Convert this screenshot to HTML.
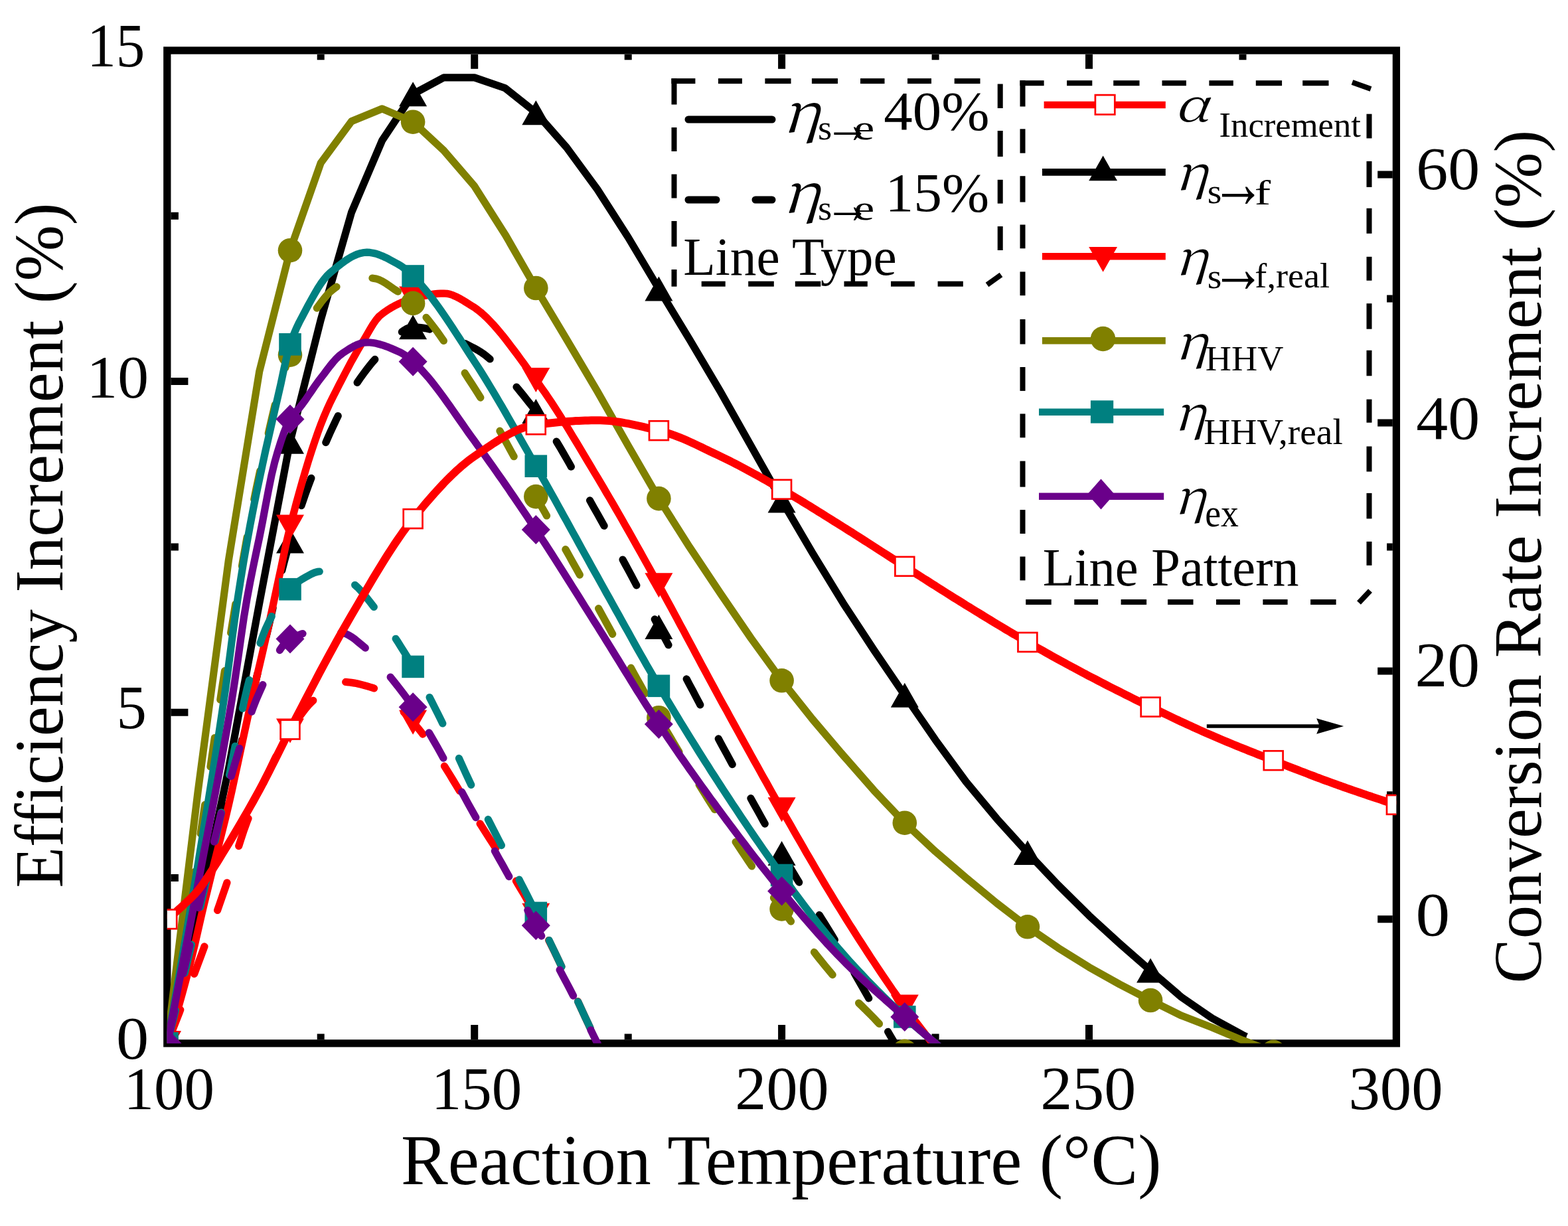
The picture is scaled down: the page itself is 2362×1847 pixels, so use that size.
<!DOCTYPE html><html><head><meta charset="utf-8"><style>html,body{margin:0;padding:0;background:#fff;overflow:hidden}svg{display:block}</style></head><body>
<svg width="2362" height="1847" viewBox="0 0 2362 1847">
<rect width="2362" height="1847" fill="#fff"/>
<defs><clipPath id="pc"><rect x="251.8" y="76.0" width="1851.6" height="1495.8"/></clipPath></defs>
<rect x="251.8" y="76.0" width="1851.6" height="1495.8" fill="none" stroke="#000" stroke-width="11.3"/>
<path d="M483.2,1566.1V1557.6 M483.2,81.7V90.2 M714.7,1566.1V1544.1 M714.7,81.7V103.7 M946.2,1566.1V1557.6 M946.2,81.7V90.2 M1177.6,1566.1V1544.1 M1177.6,81.7V103.7 M1409.1,1566.1V1557.6 M1409.1,81.7V90.2 M1640.5,1566.1V1544.1 M1640.5,81.7V103.7 M1872.0,1566.1V1557.6 M1872.0,81.7V90.2 M257.4,1322.5H268.9 M257.4,1073.2H283.4 M257.4,823.9H268.9 M257.4,574.6H283.4 M257.4,325.3H268.9 M2097.8,1384.8H2075.2 M2097.8,1197.8H2089.1 M2097.8,1010.9H2075.2 M2097.8,823.9H2089.1 M2097.8,636.9H2075.2 M2097.8,450.0H2089.1 M2097.8,263.0H2075.2" stroke="#000" stroke-width="11" fill="none"/>
<g clip-path="url(#pc)">
<path d="M251.8,1571.8 L298.1,1377.3 L344.4,1158.0 L390.7,908.7 L437.0,665.3 L483.2,481.9 L529.5,320.0 L575.8,211.3 L622.1,141.8 L668.4,116.9 L714.7,116.9 L761.0,132.8 L807.3,169.7 L853.6,222.3 L899.9,285.4 L946.2,357.5 L992.4,435.0 L1038.7,511.4 L1085.0,589.6 L1131.3,671.8 L1177.6,754.1 L1223.9,833.0 L1270.2,908.7 L1316.5,979.4 L1362.8,1047.3 L1409.1,1114.7 L1455.3,1177.9 L1501.6,1233.4 L1547.9,1284.6 L1594.2,1333.5 L1640.5,1379.3 L1686.8,1421.6 L1733.1,1462.1 L1779.4,1502.0 L1825.7,1533.9 L1872.0,1559.2 L1877.5,1561.8" fill="none" stroke="#000000" stroke-width="11.2" stroke-linejoin="round"/>
<polygon points="251.8,1553.3 272.8,1590.3 230.8,1590.3" fill="#000000"/>
<polygon points="437.0,646.8 458.0,683.8 416.0,683.8" fill="#000000"/>
<polygon points="622.1,123.3 643.1,160.3 601.1,160.3" fill="#000000"/>
<polygon points="807.3,151.2 828.3,188.2 786.3,188.2" fill="#000000"/>
<polygon points="992.4,416.5 1013.4,453.5 971.4,453.5" fill="#000000"/>
<polygon points="1177.6,735.6 1198.6,772.6 1156.6,772.6" fill="#000000"/>
<polygon points="1362.8,1028.8 1383.8,1065.8 1341.8,1065.8" fill="#000000"/>
<polygon points="1547.9,1266.1 1568.9,1303.1 1526.9,1303.1" fill="#000000"/>
<polygon points="1733.1,1443.6 1754.1,1480.6 1712.1,1480.6" fill="#000000"/>
<path d="M251.8,1571.8 L256.4,1555.2 L261.1,1538.5 L265.7,1521.5 L270.3,1504.3 L274.9,1487.0 L279.6,1469.4 L284.2,1451.7 L288.8,1433.7 L293.5,1415.6 L298.1,1397.3 L302.7,1378.7 L307.3,1359.8 L312.0,1340.7 L316.6,1321.3 L321.2,1301.7 L325.9,1282.0 L330.5,1262.2 L335.1,1242.4 L339.8,1222.6 L344.4,1202.8 L349.0,1183.0 L353.6,1163.1 L358.3,1143.0 L362.9,1122.9 L367.5,1102.7 L372.2,1082.6 L376.8,1062.6 L381.4,1042.6 L386.0,1022.9 L390.7,1003.4 L395.3,983.8 L399.9,963.9 L404.6,943.9 L409.2,924.0 L413.8,904.2 L418.4,884.9 L423.1,866.1 L427.7,848.1 L432.3,831.0 L437.0,814.9 L441.6,799.8 L446.2,785.1 L450.8,770.9 L455.5,757.3 L460.1,744.0 L464.7,731.3 L469.4,718.9 L474.0,707.0 L478.6,695.5 L483.2,684.3 L487.9,673.4 L492.5,662.7 L497.1,652.3 L501.8,642.2 L506.4,632.4 L511.0,622.9 L515.7,613.9 L520.3,605.3 L524.9,597.2 L529.5,589.6 L534.2,582.4 L538.8,575.4 L543.4,568.7 L548.1,562.3 L552.7,556.2 L557.3,550.3 L561.9,544.7 L566.6,539.4 L571.2,534.4 L575.8,529.7 L580.5,525.0 L585.1,520.0 L589.7,515.0 L594.3,510.2 L599.0,505.6 L603.6,501.4 L608.2,497.9 L612.9,495.2 L617.5,493.5 L622.1,492.8 L626.7,492.9 L631.4,493.3 L636.0,493.9 L640.6,494.6 L645.3,495.6 L649.9,496.7 L654.5,498.0 L659.2,499.5 L663.8,501.1 L668.4,502.8 L673.0,504.7 L677.7,506.6 L682.3,508.7 L686.9,510.8 L691.6,513.0 L696.2,515.3 L700.8,517.6 L705.4,520.0 L710.1,522.4 L714.7,524.7 L719.3,527.3 L724.0,530.2 L728.6,533.4 L733.2,536.9 L737.8,540.7 L742.5,544.8 L747.1,549.1 L751.7,553.7 L756.4,558.4 L761.0,563.4 L765.6,568.5 L770.2,573.8 L774.9,579.2 L779.5,584.8 L784.1,590.4 L788.8,596.1 L793.4,601.9 L798.0,607.7 L802.7,613.6 L807.3,619.5 L811.9,625.5 L816.5,631.9 L821.2,638.5 L825.8,645.4 L830.4,652.5 L835.1,659.9 L839.7,667.5 L844.3,675.2 L848.9,683.1 L853.6,691.2 L858.2,699.3 L862.8,707.6 L867.5,715.9 L872.1,724.2 L876.7,732.6 L881.3,741.0 L886.0,749.3 L890.6,757.6 L895.2,765.9 L899.9,774.0 L904.5,782.2 L909.1,790.4 L913.7,798.7 L918.4,807.0 L923.0,815.4 L927.6,823.9 L932.3,832.4 L936.9,840.9 L941.5,849.5 L946.2,858.1 L950.8,866.7 L955.4,875.3 L960.0,884.0 L964.7,892.7 L969.3,901.3 L973.9,910.0 L978.6,918.7 L983.2,927.3 L987.8,935.9 L992.4,944.6 L997.1,953.2 L1001.7,961.8 L1006.3,970.5 L1011.0,979.2 L1015.6,987.9 L1020.2,996.6 L1024.8,1005.3 L1029.5,1014.0 L1034.1,1022.8 L1038.7,1031.5 L1043.4,1040.2 L1048.0,1049.0 L1052.6,1057.7 L1057.2,1066.4 L1061.9,1075.1 L1066.5,1083.7 L1071.1,1092.3 L1075.8,1101.0 L1080.4,1109.5 L1085.0,1118.1 L1089.6,1126.6 L1094.3,1135.1 L1098.9,1143.7 L1103.5,1152.2 L1108.2,1160.8 L1112.8,1169.3 L1117.4,1177.8 L1122.1,1186.3 L1126.7,1194.8 L1131.3,1203.3 L1135.9,1211.7 L1140.6,1220.1 L1145.2,1228.4 L1149.8,1236.8 L1154.5,1245.0 L1159.1,1253.3 L1163.7,1261.4 L1168.3,1269.6 L1173.0,1277.6 L1177.6,1285.6 L1182.2,1293.5 L1186.9,1301.3 L1191.5,1309.1 L1196.1,1316.7 L1200.7,1324.4 L1205.4,1331.9 L1210.0,1339.4 L1214.6,1346.9 L1219.3,1354.4 L1223.9,1361.8 L1228.5,1369.2 L1233.1,1376.6 L1237.8,1384.1 L1242.4,1391.5 L1247.0,1399.0 L1251.7,1406.5 L1256.3,1414.1 L1260.9,1421.7 L1265.6,1429.4 L1270.2,1437.2 L1274.8,1445.0 L1279.4,1452.9 L1284.1,1460.9 L1288.7,1468.9 L1293.3,1477.0 L1298.0,1485.1 L1302.6,1493.2 L1307.2,1501.3 L1311.8,1509.4 L1316.5,1517.5 L1321.1,1525.6 L1325.7,1533.7 L1330.4,1541.8 L1335.0,1549.8 L1339.6,1557.7 L1344.2,1565.6 L1348.9,1573.4 L1353.5,1581.1 L1358.1,1588.8 L1362.8,1596.5 L1367.4,1604.1 L1372.0,1611.7 L1376.6,1619.3 L1381.3,1626.9 L1385.9,1634.4 L1390.5,1641.9 L1395.2,1649.3 L1399.8,1656.8 L1404.4,1664.2 L1409.1,1671.5" fill="none" stroke="#000000" stroke-width="11.2" stroke-dasharray="44 58" stroke-dashoffset="82.8" stroke-linecap="round"/>
<polygon points="251.8,1553.3 272.8,1590.3 230.8,1590.3" fill="#000000"/>
<polygon points="437.0,796.4 458.0,833.4 416.0,833.4" fill="#000000"/>
<polygon points="622.1,474.3 643.1,511.3 601.1,511.3" fill="#000000"/>
<polygon points="807.3,601.0 828.3,638.0 786.3,638.0" fill="#000000"/>
<polygon points="992.4,926.1 1013.4,963.1 971.4,963.1" fill="#000000"/>
<polygon points="1177.6,1267.1 1198.6,1304.1 1156.6,1304.1" fill="#000000"/>
<polygon points="1362.8,1578.0 1383.8,1615.0 1341.8,1615.0" fill="#000000"/>
<path d="M251.8,1571.8 L256.4,1557.8 L261.1,1543.1 L265.7,1527.8 L270.3,1512.0 L274.9,1495.5 L279.6,1478.3 L284.2,1460.5 L288.8,1442.2 L293.5,1422.8 L298.1,1402.6 L302.7,1382.2 L307.3,1362.4 L312.0,1343.4 L316.6,1324.7 L321.2,1306.2 L325.9,1287.6 L330.5,1269.1 L335.1,1250.8 L339.8,1232.2 L344.4,1212.8 L349.0,1192.4 L353.6,1171.1 L358.3,1149.5 L362.9,1128.0 L367.5,1106.7 L372.2,1085.3 L376.8,1064.1 L381.4,1043.3 L386.0,1023.1 L390.7,1003.4 L395.3,983.7 L399.9,963.5 L404.6,942.7 L409.2,921.4 L413.8,900.1 L418.4,878.7 L423.1,857.0 L427.7,834.9 L432.3,813.5 L437.0,794.0 L441.6,776.0 L446.2,758.5 L450.8,741.6 L455.5,725.1 L460.1,709.2 L464.7,694.0 L469.4,679.3 L474.0,665.4 L478.6,652.1 L483.2,639.6 L487.9,627.9 L492.5,617.1 L497.1,607.0 L501.8,597.6 L506.4,588.4 L511.0,579.4 L515.7,570.4 L520.3,561.5 L524.9,552.8 L529.5,544.2 L534.2,535.9 L538.8,527.8 L543.4,519.9 L548.1,512.2 L552.7,504.3 L557.3,496.3 L561.9,488.6 L566.6,481.9 L571.2,476.5 L575.8,472.7 L580.5,469.3 L585.1,466.2 L589.7,463.4 L594.3,460.8 L599.0,458.4 L603.6,456.3 L608.2,454.4 L612.9,452.7 L617.5,451.2 L622.1,450.0 L626.7,448.8 L631.4,447.6 L636.0,446.5 L640.6,445.4 L645.3,444.5 L649.9,443.6 L654.5,442.9 L659.2,442.4 L663.8,442.1 L668.4,442.0 L673.0,442.3 L677.7,443.3 L682.3,444.8 L686.9,446.8 L691.6,449.2 L696.2,451.8 L700.8,454.6 L705.4,457.5 L710.1,460.4 L714.7,463.3 L719.3,466.6 L724.0,470.3 L728.6,474.4 L733.2,478.7 L737.8,483.4 L742.5,488.3 L747.1,493.5 L751.7,498.9 L756.4,504.5 L761.0,510.3 L765.6,516.2 L770.2,522.3 L774.9,528.5 L779.5,534.7 L784.1,541.0 L788.8,547.4 L793.4,553.7 L798.0,560.1 L802.7,566.4 L807.3,572.6 L811.9,578.9 L816.5,585.4 L821.2,592.0 L825.8,598.8 L830.4,605.7 L835.1,612.8 L839.7,620.0 L844.3,627.3 L848.9,634.7 L853.6,642.1 L858.2,649.7 L862.8,657.3 L867.5,665.0 L872.1,672.7 L876.7,680.4 L881.3,688.2 L886.0,696.0 L890.6,703.7 L895.2,711.5 L899.9,719.2 L904.5,726.9 L909.1,734.7 L913.7,742.6 L918.4,750.5 L923.0,758.4 L927.6,766.4 L932.3,774.5 L936.9,782.6 L941.5,790.7 L946.2,798.9 L950.8,807.1 L955.4,815.3 L960.0,823.5 L964.7,831.8 L969.3,840.1 L973.9,848.4 L978.6,856.7 L983.2,865.1 L987.8,873.4 L992.4,881.7 L997.1,890.1 L1001.7,898.5 L1006.3,907.0 L1011.0,915.5 L1015.6,924.1 L1020.2,932.7 L1024.8,941.3 L1029.5,949.9 L1034.1,958.6 L1038.7,967.2 L1043.4,975.9 L1048.0,984.6 L1052.6,993.2 L1057.2,1001.9 L1061.9,1010.5 L1066.5,1019.1 L1071.1,1027.7 L1075.8,1036.3 L1080.4,1044.8 L1085.0,1053.3 L1089.6,1061.7 L1094.3,1070.1 L1098.9,1078.6 L1103.5,1087.0 L1108.2,1095.5 L1112.8,1103.9 L1117.4,1112.3 L1122.1,1120.7 L1126.7,1129.0 L1131.3,1137.4 L1135.9,1145.8 L1140.6,1154.1 L1145.2,1162.4 L1149.8,1170.7 L1154.5,1178.9 L1159.1,1187.2 L1163.7,1195.4 L1168.3,1203.5 L1173.0,1211.7 L1177.6,1219.8 L1182.2,1227.9 L1186.9,1236.0 L1191.5,1244.1 L1196.1,1252.2 L1200.7,1260.2 L1205.4,1268.3 L1210.0,1276.3 L1214.6,1284.4 L1219.3,1292.3 L1223.9,1300.3 L1228.5,1308.2 L1233.1,1316.1 L1237.8,1324.0 L1242.4,1331.8 L1247.0,1339.5 L1251.7,1347.2 L1256.3,1354.8 L1260.9,1362.4 L1265.6,1369.9 L1270.2,1377.3 L1274.8,1384.7 L1279.4,1392.1 L1284.1,1399.4 L1288.7,1406.7 L1293.3,1413.9 L1298.0,1421.1 L1302.6,1428.3 L1307.2,1435.4 L1311.8,1442.5 L1316.5,1449.5 L1321.1,1456.5 L1325.7,1463.4 L1330.4,1470.3 L1335.0,1477.2 L1339.6,1483.9 L1344.2,1490.7 L1348.9,1497.3 L1353.5,1503.9 L1358.1,1510.5 L1362.8,1517.0 L1367.4,1523.3 L1372.0,1529.5 L1376.6,1535.6 L1381.3,1541.7 L1385.9,1547.6 L1390.5,1553.6 L1395.2,1559.6 L1399.8,1565.6 L1404.4,1571.8 L1409.1,1578.0 L1413.7,1584.3 L1418.3,1590.5 L1422.9,1596.8 L1427.6,1603.2 L1432.2,1609.5 L1436.8,1615.9 L1441.5,1622.3 L1446.1,1628.7 L1450.7,1635.1 L1455.3,1641.6" fill="none" stroke="#ff0000" stroke-width="11.2" stroke-linejoin="round"/>
<polygon points="251.8,1590.3 272.8,1553.3 230.8,1553.3" fill="#ff0000"/>
<polygon points="437.0,812.5 458.0,775.5 416.0,775.5" fill="#ff0000"/>
<polygon points="622.1,468.5 643.1,431.5 601.1,431.5" fill="#ff0000"/>
<polygon points="807.3,591.1 828.3,554.1 786.3,554.1" fill="#ff0000"/>
<polygon points="992.4,900.2 1013.4,863.2 971.4,863.2" fill="#ff0000"/>
<polygon points="1177.6,1238.3 1198.6,1201.3 1156.6,1201.3" fill="#ff0000"/>
<polygon points="1362.8,1535.5 1383.8,1498.5 1341.8,1498.5" fill="#ff0000"/>
<path d="M251.8,1571.8 L256.4,1560.3 L261.1,1548.6 L265.7,1536.9 L270.3,1525.1 L274.9,1513.2 L279.6,1501.2 L284.2,1489.2 L288.8,1477.1 L293.5,1464.9 L298.1,1452.6 L302.7,1440.2 L307.3,1427.7 L312.0,1415.1 L316.6,1402.3 L321.2,1389.3 L325.9,1376.2 L330.5,1363.0 L335.1,1349.6 L339.8,1336.1 L344.4,1322.5 L349.0,1308.4 L353.6,1293.8 L358.3,1279.0 L362.9,1264.5 L367.5,1250.6 L372.2,1237.7 L376.8,1225.8 L381.4,1214.4 L386.0,1203.5 L390.7,1193.0 L395.3,1182.9 L399.9,1172.9 L404.6,1163.1 L409.2,1153.3 L413.8,1143.7 L418.4,1134.4 L423.1,1125.3 L427.7,1116.7 L432.3,1108.6 L437.0,1101.1 L441.6,1094.0 L446.2,1087.0 L450.8,1080.3 L455.5,1073.9 L460.1,1067.9 L464.7,1062.4 L469.4,1057.5 L474.0,1053.3 L478.6,1049.3 L483.2,1045.2 L487.9,1041.3 L492.5,1037.6 L497.1,1034.3 L501.8,1031.4 L506.4,1029.2 L511.0,1027.8 L515.7,1027.3 L520.3,1027.4 L524.9,1027.8 L529.5,1028.4 L534.2,1029.1 L538.8,1030.0 L543.4,1031.1 L548.1,1032.3 L552.7,1033.6 L557.3,1035.0 L561.9,1036.4 L566.6,1038.0 L571.2,1040.0 L575.8,1042.7 L580.5,1045.9 L585.1,1049.6 L589.7,1053.7 L594.3,1058.1 L599.0,1062.8 L603.6,1067.7 L608.2,1072.8 L612.9,1077.9 L617.5,1083.1 L622.1,1088.2 L626.7,1093.4 L631.4,1099.0 L636.0,1104.8 L640.6,1111.0 L645.3,1117.4 L649.9,1124.0 L654.5,1130.9 L659.2,1137.9 L663.8,1145.1 L668.4,1152.5 L673.0,1159.9 L677.7,1167.4 L682.3,1175.0 L686.9,1182.6 L691.6,1190.3 L696.2,1197.9 L700.8,1205.5 L705.4,1213.0 L710.1,1220.4 L714.7,1227.8 L719.3,1235.0 L724.0,1242.3 L728.6,1249.5 L733.2,1256.7 L737.8,1263.9 L742.5,1271.2 L747.1,1278.5 L751.7,1285.8 L756.4,1293.1 L761.0,1300.5 L765.6,1308.0 L770.2,1315.5 L774.9,1323.1 L779.5,1330.8 L784.1,1338.6 L788.8,1346.5 L793.4,1354.5 L798.0,1362.7 L802.7,1370.9 L807.3,1379.3 L811.9,1387.9 L816.5,1396.7 L821.2,1405.7 L825.8,1414.8 L830.4,1424.1 L835.1,1433.5 L839.7,1443.0 L844.3,1452.7 L848.9,1462.4 L853.6,1472.2 L858.2,1482.1 L862.8,1492.1 L867.5,1502.1 L872.1,1512.1 L876.7,1522.1 L881.3,1532.1 L886.0,1542.1 L890.6,1552.0 L895.2,1562.0 L899.9,1571.8 L904.5,1581.6 L909.1,1591.5 L913.7,1601.4 L918.4,1611.3 L923.0,1621.3 L927.6,1631.3 L932.3,1641.3 L936.9,1651.4 L941.5,1661.4 L946.2,1671.5" fill="none" stroke="#ff0000" stroke-width="11.2" stroke-dasharray="44 58" stroke-dashoffset="91.7" stroke-linecap="round"/>
<polygon points="251.8,1590.3 272.8,1553.3 230.8,1553.3" fill="#ff0000"/>
<polygon points="437.0,1119.6 458.0,1082.6 416.0,1082.6" fill="#ff0000"/>
<polygon points="622.1,1106.7 643.1,1069.7 601.1,1069.7" fill="#ff0000"/>
<polygon points="807.3,1397.8 828.3,1360.8 786.3,1360.8" fill="#ff0000"/>
<path d="M251.8,1571.8 L298.1,1192.9 L344.4,843.8 L390.7,559.6 L437.0,377.2 L483.2,245.5 L529.5,182.7 L575.8,163.8 L622.1,183.7 L668.4,226.6 L714.7,280.4 L761.0,353.4 L807.3,434.0 L853.6,511.3 L899.9,589.6 L946.2,671.2 L992.4,751.1 L1038.7,824.2 L1085.0,893.7 L1131.3,961.5 L1177.6,1025.3 L1223.9,1083.5 L1270.2,1138.0 L1316.5,1190.8 L1362.8,1239.7 L1409.1,1282.8 L1455.3,1322.5 L1501.6,1360.8 L1547.9,1396.3 L1594.2,1428.2 L1640.5,1457.1 L1686.8,1483.0 L1733.1,1507.0 L1779.4,1529.9 L1825.7,1547.9 L1872.0,1567.3 L1918.2,1584.8 L1964.5,1599.3 L2010.8,1611.7" fill="none" stroke="#808000" stroke-width="11.2" stroke-linejoin="round"/>
<circle cx="251.8" cy="1571.8" r="18.3" fill="#808000"/>
<circle cx="437.0" cy="377.2" r="18.3" fill="#808000"/>
<circle cx="622.1" cy="183.7" r="18.3" fill="#808000"/>
<circle cx="807.3" cy="434.0" r="18.3" fill="#808000"/>
<circle cx="992.4" cy="751.1" r="18.3" fill="#808000"/>
<circle cx="1177.6" cy="1025.3" r="18.3" fill="#808000"/>
<circle cx="1362.8" cy="1239.7" r="18.3" fill="#808000"/>
<circle cx="1547.9" cy="1396.3" r="18.3" fill="#808000"/>
<circle cx="1733.1" cy="1507.0" r="18.3" fill="#808000"/>
<circle cx="1918.2" cy="1584.8" r="18.3" fill="#808000"/>
<path d="M251.8,1571.8 L256.4,1543.8 L261.1,1515.5 L265.7,1487.1 L270.3,1458.5 L274.9,1429.7 L279.6,1400.6 L284.2,1371.4 L288.8,1342.0 L293.5,1312.4 L298.1,1282.6 L302.7,1252.3 L307.3,1221.2 L312.0,1189.7 L316.6,1157.8 L321.2,1125.9 L325.9,1094.2 L330.5,1062.9 L335.1,1032.2 L339.8,1002.3 L344.4,973.5 L349.0,945.3 L353.6,917.2 L358.3,889.4 L362.9,862.0 L367.5,835.1 L372.2,808.9 L376.8,783.6 L381.4,759.3 L386.0,736.1 L390.7,714.2 L395.3,693.0 L399.9,671.9 L404.6,651.3 L409.2,631.2 L413.8,611.9 L418.4,593.6 L423.1,576.5 L427.7,560.8 L432.3,546.8 L437.0,534.7 L441.6,524.1 L446.2,514.4 L450.8,505.4 L455.5,497.2 L460.1,489.5 L464.7,482.3 L469.4,475.5 L474.0,468.9 L478.6,462.4 L483.2,456.1 L487.9,450.1 L492.5,444.6 L497.1,439.9 L501.8,436.0 L506.4,432.6 L511.0,429.2 L515.7,426.0 L520.3,423.1 L524.9,420.7 L529.5,418.7 L534.2,417.5 L538.8,417.0 L543.4,417.1 L548.1,417.4 L552.7,417.9 L557.3,418.5 L561.9,419.2 L566.6,420.0 L571.2,421.4 L575.8,423.6 L580.5,426.4 L585.1,429.5 L589.7,432.8 L594.3,436.0 L599.0,439.0 L603.6,442.2 L608.2,445.5 L612.9,449.0 L617.5,452.8 L622.1,456.9 L626.7,461.4 L631.4,466.2 L636.0,471.2 L640.6,476.6 L645.3,482.2 L649.9,488.1 L654.5,494.2 L659.2,500.4 L663.8,506.9 L668.4,513.5 L673.0,520.3 L677.7,527.2 L682.3,534.2 L686.9,541.3 L691.6,548.5 L696.2,555.7 L700.8,562.9 L705.4,570.2 L710.1,577.4 L714.7,584.6 L719.3,591.8 L724.0,599.3 L728.6,606.9 L733.2,614.7 L737.8,622.6 L742.5,630.6 L747.1,638.8 L751.7,647.0 L756.4,655.3 L761.0,663.7 L765.6,672.1 L770.2,680.6 L774.9,689.1 L779.5,697.6 L784.1,706.1 L788.8,714.6 L793.4,723.1 L798.0,731.5 L802.7,739.8 L807.3,748.1 L811.9,756.3 L816.5,764.6 L821.2,772.8 L825.8,781.1 L830.4,789.3 L835.1,797.6 L839.7,805.8 L844.3,814.1 L848.9,822.4 L853.6,830.6 L858.2,838.9 L862.8,847.2 L867.5,855.5 L872.1,863.8 L876.7,872.1 L881.3,880.4 L886.0,888.7 L890.6,897.0 L895.2,905.3 L899.9,913.6 L904.5,922.0 L909.1,930.4 L913.7,938.8 L918.4,947.3 L923.0,955.8 L927.6,964.3 L932.3,972.8 L936.9,981.3 L941.5,989.8 L946.2,998.3 L950.8,1006.8 L955.4,1015.3 L960.0,1023.7 L964.7,1032.1 L969.3,1040.4 L973.9,1048.7 L978.6,1056.9 L983.2,1065.1 L987.8,1073.2 L992.4,1081.2 L997.1,1089.1 L1001.7,1097.0 L1006.3,1104.9 L1011.0,1112.7 L1015.6,1120.5 L1020.2,1128.3 L1024.8,1136.0 L1029.5,1143.7 L1034.1,1151.3 L1038.7,1158.9 L1043.4,1166.5 L1048.0,1174.0 L1052.6,1181.5 L1057.2,1188.9 L1061.9,1196.3 L1066.5,1203.7 L1071.1,1211.0 L1075.8,1218.3 L1080.4,1225.5 L1085.0,1232.8 L1089.6,1239.9 L1094.3,1247.1 L1098.9,1254.2 L1103.5,1261.3 L1108.2,1268.4 L1112.8,1275.4 L1117.4,1282.4 L1122.1,1289.4 L1126.7,1296.3 L1131.3,1303.2 L1135.9,1310.1 L1140.6,1316.9 L1145.2,1323.6 L1149.8,1330.3 L1154.5,1337.0 L1159.1,1343.6 L1163.7,1350.1 L1168.3,1356.6 L1173.0,1363.0 L1177.6,1369.4 L1182.2,1375.7 L1186.9,1382.0 L1191.5,1388.2 L1196.1,1394.5 L1200.7,1400.7 L1205.4,1406.9 L1210.0,1413.0 L1214.6,1419.1 L1219.3,1425.1 L1223.9,1431.1 L1228.5,1437.1 L1233.1,1442.9 L1237.8,1448.7 L1242.4,1454.4 L1247.0,1460.1 L1251.7,1465.7 L1256.3,1471.1 L1260.9,1476.5 L1265.6,1481.8 L1270.2,1487.0 L1274.8,1492.1 L1279.4,1497.0 L1284.1,1501.7 L1288.7,1506.3 L1293.3,1510.9 L1298.0,1515.4 L1302.6,1519.9 L1307.2,1524.5 L1311.8,1529.1 L1316.5,1533.9 L1321.1,1538.8 L1325.7,1543.7 L1330.4,1548.7 L1335.0,1553.7 L1339.6,1558.8 L1344.2,1563.8 L1348.9,1568.9 L1353.5,1573.9 L1358.1,1578.8 L1362.8,1583.8 L1367.4,1588.6 L1372.0,1593.5 L1376.6,1598.3 L1381.3,1603.1 L1385.9,1607.9 L1390.5,1612.7 L1395.2,1617.5 L1399.8,1622.2 L1404.4,1626.9 L1409.1,1631.6" fill="none" stroke="#808000" stroke-width="11.2" stroke-dasharray="44 58" stroke-dashoffset="88.2" stroke-linecap="round"/>
<circle cx="251.8" cy="1571.8" r="18.3" fill="#808000"/>
<circle cx="437.0" cy="534.7" r="18.3" fill="#808000"/>
<circle cx="622.1" cy="456.9" r="18.3" fill="#808000"/>
<circle cx="807.3" cy="748.1" r="18.3" fill="#808000"/>
<circle cx="992.4" cy="1081.2" r="18.3" fill="#808000"/>
<circle cx="1177.6" cy="1369.4" r="18.3" fill="#808000"/>
<circle cx="1362.8" cy="1583.8" r="18.3" fill="#808000"/>
<path d="M251.8,1571.8 L256.4,1546.0 L261.1,1520.0 L265.7,1493.7 L270.3,1467.1 L274.9,1440.3 L279.6,1413.2 L284.2,1385.9 L288.8,1358.3 L293.5,1330.6 L298.1,1302.6 L302.7,1274.4 L307.3,1246.2 L312.0,1217.8 L316.6,1189.1 L321.2,1160.0 L325.9,1130.4 L330.5,1100.2 L335.1,1069.2 L339.8,1037.2 L344.4,1002.7 L349.0,967.1 L353.6,932.4 L358.3,900.6 L362.9,871.0 L367.5,842.9 L372.2,816.3 L376.8,791.0 L381.4,767.1 L386.0,744.3 L390.7,722.2 L395.3,700.6 L399.9,679.3 L404.6,658.7 L409.2,638.5 L413.8,618.5 L418.4,598.6 L423.1,578.0 L427.7,556.1 L432.3,535.5 L437.0,518.8 L441.6,506.0 L446.2,495.2 L450.8,485.5 L455.5,476.6 L460.1,467.9 L464.7,459.1 L469.4,450.6 L474.0,442.4 L478.6,434.6 L483.2,427.4 L487.9,421.0 L492.5,415.5 L497.1,411.1 L501.8,407.2 L506.4,403.4 L511.0,399.7 L515.7,396.1 L520.3,392.8 L524.9,389.8 L529.5,387.0 L534.2,384.7 L538.8,382.8 L543.4,381.4 L548.1,380.5 L552.7,380.1 L557.3,380.4 L561.9,381.2 L566.6,382.3 L571.2,383.9 L575.8,385.7 L580.5,387.8 L585.1,390.1 L589.7,392.6 L594.3,395.1 L599.0,397.6 L603.6,400.3 L608.2,403.6 L612.9,407.5 L617.5,411.6 L622.1,416.0 L626.7,420.7 L631.4,425.6 L636.0,430.9 L640.6,436.4 L645.3,442.1 L649.9,448.1 L654.5,454.3 L659.2,460.7 L663.8,467.2 L668.4,473.9 L673.0,480.7 L677.7,487.6 L682.3,494.6 L686.9,501.7 L691.6,508.9 L696.2,516.0 L700.8,523.2 L705.4,530.4 L710.1,537.6 L714.7,544.7 L719.3,551.8 L724.0,559.1 L728.6,566.5 L733.2,574.0 L737.8,581.6 L742.5,589.3 L747.1,597.1 L751.7,605.0 L756.4,612.9 L761.0,620.9 L765.6,629.0 L770.2,637.1 L774.9,645.2 L779.5,653.3 L784.1,661.5 L788.8,669.7 L793.4,677.8 L798.0,686.0 L802.7,694.1 L807.3,702.2 L811.9,710.4 L816.5,718.5 L821.2,726.7 L825.8,735.0 L830.4,743.3 L835.1,751.6 L839.7,759.9 L844.3,768.3 L848.9,776.7 L853.6,785.1 L858.2,793.5 L862.8,801.9 L867.5,810.3 L872.1,818.7 L876.7,827.1 L881.3,835.4 L886.0,843.8 L890.6,852.2 L895.2,860.5 L899.9,868.8 L904.5,877.1 L909.1,885.4 L913.7,893.7 L918.4,902.1 L923.0,910.4 L927.6,918.8 L932.3,927.1 L936.9,935.5 L941.5,943.8 L946.2,952.1 L950.8,960.4 L955.4,968.7 L960.0,977.0 L964.7,985.2 L969.3,993.3 L973.9,1001.4 L978.6,1009.5 L983.2,1017.5 L987.8,1025.4 L992.4,1033.3 L997.1,1041.1 L1001.7,1048.9 L1006.3,1056.7 L1011.0,1064.4 L1015.6,1072.1 L1020.2,1079.7 L1024.8,1087.3 L1029.5,1094.9 L1034.1,1102.4 L1038.7,1109.9 L1043.4,1117.4 L1048.0,1124.8 L1052.6,1132.2 L1057.2,1139.5 L1061.9,1146.9 L1066.5,1154.1 L1071.1,1161.4 L1075.8,1168.6 L1080.4,1175.8 L1085.0,1182.9 L1089.6,1190.0 L1094.3,1197.1 L1098.9,1204.1 L1103.5,1211.2 L1108.2,1218.2 L1112.8,1225.1 L1117.4,1232.1 L1122.1,1239.0 L1126.7,1245.8 L1131.3,1252.7 L1135.9,1259.5 L1140.6,1266.2 L1145.2,1272.9 L1149.8,1279.6 L1154.5,1286.2 L1159.1,1292.8 L1163.7,1299.3 L1168.3,1305.7 L1173.0,1312.2 L1177.6,1318.5 L1182.2,1324.8 L1186.9,1331.1 L1191.5,1337.4 L1196.1,1343.7 L1200.7,1349.9 L1205.4,1356.1 L1210.0,1362.3 L1214.6,1368.4 L1219.3,1374.5 L1223.9,1380.5 L1228.5,1386.5 L1233.1,1392.4 L1237.8,1398.2 L1242.4,1404.0 L1247.0,1409.8 L1251.7,1415.4 L1256.3,1421.0 L1260.9,1426.5 L1265.6,1431.9 L1270.2,1437.2 L1274.8,1442.4 L1279.4,1447.6 L1284.1,1452.7 L1288.7,1457.8 L1293.3,1462.8 L1298.0,1467.7 L1302.6,1472.6 L1307.2,1477.5 L1311.8,1482.2 L1316.5,1487.0 L1321.1,1491.7 L1325.7,1496.3 L1330.4,1500.9 L1335.0,1505.5 L1339.6,1510.0 L1344.2,1514.4 L1348.9,1518.9 L1353.5,1523.3 L1358.1,1527.6 L1362.8,1531.9 L1367.4,1536.1 L1372.0,1540.3 L1376.6,1544.3 L1381.3,1548.3 L1385.9,1552.2 L1390.5,1556.1 L1395.2,1560.0 L1399.8,1563.9 L1404.4,1567.8 L1409.1,1571.8 L1413.7,1575.8 L1418.3,1579.8 L1422.9,1583.8 L1427.6,1587.8 L1432.2,1591.7 L1436.8,1595.7 L1441.5,1599.7 L1446.1,1603.7 L1450.7,1607.7 L1455.3,1611.7" fill="none" stroke="#008080" stroke-width="11.2" stroke-linejoin="round"/>
<rect x="235.0" y="1555.0" width="33.6" height="33.6" fill="#008080"/>
<rect x="420.2" y="502.0" width="33.6" height="33.6" fill="#008080"/>
<rect x="605.3" y="399.2" width="33.6" height="33.6" fill="#008080"/>
<rect x="790.5" y="685.4" width="33.6" height="33.6" fill="#008080"/>
<rect x="975.6" y="1016.5" width="33.6" height="33.6" fill="#008080"/>
<rect x="1160.8" y="1301.7" width="33.6" height="33.6" fill="#008080"/>
<rect x="1346.0" y="1515.1" width="33.6" height="33.6" fill="#008080"/>
<path d="M251.8,1571.8 L256.4,1553.7 L261.1,1535.5 L265.7,1517.0 L270.3,1498.4 L274.9,1479.5 L279.6,1460.4 L284.2,1441.2 L288.8,1421.8 L293.5,1402.1 L298.1,1382.3 L302.7,1362.3 L307.3,1342.0 L312.0,1321.5 L316.6,1300.7 L321.2,1279.8 L325.9,1258.6 L330.5,1237.4 L335.1,1216.0 L339.8,1194.5 L344.4,1172.9 L349.0,1150.5 L353.6,1127.0 L358.3,1103.1 L362.9,1079.7 L367.5,1057.5 L372.2,1037.2 L376.8,1019.5 L381.4,1002.9 L386.0,987.2 L390.7,972.6 L395.3,959.4 L399.9,947.7 L404.6,937.7 L409.2,928.6 L413.8,920.2 L418.4,912.4 L423.1,905.2 L427.7,898.7 L432.3,892.9 L437.0,887.7 L441.6,883.1 L446.2,878.9 L450.8,875.3 L455.5,872.3 L460.1,869.7 L464.7,867.1 L469.4,864.6 L474.0,862.6 L478.6,861.3 L483.2,860.8 L487.9,861.0 L492.5,861.7 L497.1,862.8 L501.8,864.3 L506.4,866.0 L511.0,868.0 L515.7,870.3 L520.3,872.7 L524.9,875.2 L529.5,877.7 L534.2,880.9 L538.8,885.0 L543.4,889.8 L548.1,895.2 L552.7,901.0 L557.3,906.8 L561.9,912.7 L566.6,918.6 L571.2,924.9 L575.8,931.5 L580.5,938.3 L585.1,945.3 L589.7,952.4 L594.3,959.5 L599.0,966.6 L603.6,973.9 L608.2,981.2 L612.9,988.7 L617.5,996.5 L622.1,1004.4 L626.7,1012.6 L631.4,1020.9 L636.0,1029.5 L640.6,1038.2 L645.3,1047.1 L649.9,1056.1 L654.5,1065.2 L659.2,1074.5 L663.8,1083.8 L668.4,1093.1 L673.0,1102.7 L677.7,1112.5 L682.3,1122.5 L686.9,1132.6 L691.6,1142.8 L696.2,1153.0 L700.8,1163.2 L705.4,1173.2 L710.1,1183.2 L714.7,1192.9 L719.3,1202.4 L724.0,1211.8 L728.6,1221.1 L733.2,1230.3 L737.8,1239.4 L742.5,1248.5 L747.1,1257.5 L751.7,1266.5 L756.4,1275.5 L761.0,1284.4 L765.6,1293.3 L770.2,1302.3 L774.9,1311.2 L779.5,1320.2 L784.1,1329.2 L788.8,1338.3 L793.4,1347.4 L798.0,1356.6 L802.7,1365.9 L807.3,1375.4 L811.9,1384.8 L816.5,1394.4 L821.2,1404.0 L825.8,1413.7 L830.4,1423.4 L835.1,1433.1 L839.7,1442.9 L844.3,1452.7 L848.9,1462.6 L853.6,1472.5 L858.2,1482.4 L862.8,1492.3 L867.5,1502.2 L872.1,1512.2 L876.7,1522.1 L881.3,1532.1 L886.0,1542.0 L890.6,1552.0 L895.2,1561.9 L899.9,1571.8 L904.5,1581.7 L909.1,1591.6 L913.7,1601.6 L918.4,1611.5 L923.0,1621.5 L927.6,1631.5 L932.3,1641.5 L936.9,1651.5 L941.5,1661.5 L946.2,1671.5" fill="none" stroke="#008080" stroke-width="11.2" stroke-dasharray="44 58" stroke-dashoffset="94.8" stroke-linecap="round"/>
<rect x="235.0" y="1555.0" width="33.6" height="33.6" fill="#008080"/>
<rect x="420.2" y="870.9" width="33.6" height="33.6" fill="#008080"/>
<rect x="605.3" y="987.6" width="33.6" height="33.6" fill="#008080"/>
<rect x="790.5" y="1358.6" width="33.6" height="33.6" fill="#008080"/>
<path d="M251.8,1571.8 L256.4,1548.4 L261.1,1524.9 L265.7,1501.3 L270.3,1477.5 L274.9,1453.6 L279.6,1429.6 L284.2,1405.5 L288.8,1381.3 L293.5,1356.9 L298.1,1332.5 L302.7,1308.1 L307.3,1283.9 L312.0,1259.8 L316.6,1235.6 L321.2,1211.3 L325.9,1186.8 L330.5,1161.8 L335.1,1136.4 L339.8,1110.3 L344.4,1083.6 L349.0,1055.9 L353.6,1026.3 L358.3,994.0 L362.9,960.9 L367.5,929.4 L372.2,901.4 L376.8,876.8 L381.4,854.0 L386.0,832.0 L390.7,810.0 L395.3,786.8 L399.9,762.2 L404.6,737.8 L409.2,715.2 L413.8,696.3 L418.4,680.1 L423.1,665.2 L427.7,651.8 L432.3,640.4 L437.0,631.4 L441.6,624.9 L446.2,619.8 L450.8,614.8 L455.5,608.8 L460.1,602.4 L464.7,595.7 L469.4,589.0 L474.0,582.2 L478.6,575.7 L483.2,569.6 L487.9,563.6 L492.5,557.4 L497.1,551.4 L501.8,545.6 L506.4,540.4 L511.0,535.9 L515.7,532.4 L520.3,529.4 L524.9,526.4 L529.5,523.6 L534.2,521.0 L538.8,518.9 L543.4,517.2 L548.1,516.1 L552.7,515.8 L557.3,516.0 L561.9,516.5 L566.6,517.3 L571.2,518.5 L575.8,519.8 L580.5,521.4 L585.1,523.1 L589.7,525.0 L594.3,527.0 L599.0,529.1 L603.6,531.2 L608.2,533.8 L612.9,537.0 L617.5,540.7 L622.1,544.7 L626.7,548.9 L631.4,553.4 L636.0,558.3 L640.6,563.4 L645.3,568.8 L649.9,574.4 L654.5,580.2 L659.2,586.3 L663.8,592.5 L668.4,598.8 L673.0,605.2 L677.7,611.8 L682.3,618.4 L686.9,625.0 L691.6,631.7 L696.2,638.3 L700.8,644.9 L705.4,651.5 L710.1,658.0 L714.7,664.3 L719.3,670.7 L724.0,677.1 L728.6,683.5 L733.2,689.9 L737.8,696.5 L742.5,703.0 L747.1,709.6 L751.7,716.2 L756.4,722.8 L761.0,729.5 L765.6,736.2 L770.2,743.0 L774.9,749.8 L779.5,756.6 L784.1,763.4 L788.8,770.3 L793.4,777.2 L798.0,784.1 L802.7,791.0 L807.3,798.0 L811.9,805.0 L816.5,812.0 L821.2,819.1 L825.8,826.3 L830.4,833.4 L835.1,840.7 L839.7,847.9 L844.3,855.2 L848.9,862.5 L853.6,869.9 L858.2,877.2 L862.8,884.6 L867.5,892.0 L872.1,899.3 L876.7,906.7 L881.3,914.1 L886.0,921.5 L890.6,928.9 L895.2,936.2 L899.9,943.6 L904.5,950.9 L909.1,958.3 L913.7,965.8 L918.4,973.2 L923.0,980.7 L927.6,988.2 L932.3,995.7 L936.9,1003.3 L941.5,1010.8 L946.2,1018.3 L950.8,1025.8 L955.4,1033.2 L960.0,1040.7 L964.7,1048.1 L969.3,1055.4 L973.9,1062.7 L978.6,1069.9 L983.2,1077.1 L987.8,1084.1 L992.4,1091.1 L997.1,1098.1 L1001.7,1105.0 L1006.3,1111.8 L1011.0,1118.6 L1015.6,1125.4 L1020.2,1132.1 L1024.8,1138.8 L1029.5,1145.5 L1034.1,1152.1 L1038.7,1158.7 L1043.4,1165.2 L1048.0,1171.8 L1052.6,1178.2 L1057.2,1184.7 L1061.9,1191.1 L1066.5,1197.5 L1071.1,1203.9 L1075.8,1210.2 L1080.4,1216.5 L1085.0,1222.8 L1089.6,1229.0 L1094.3,1235.3 L1098.9,1241.5 L1103.5,1247.7 L1108.2,1253.9 L1112.8,1260.0 L1117.4,1266.1 L1122.1,1272.2 L1126.7,1278.3 L1131.3,1284.3 L1135.9,1290.3 L1140.6,1296.3 L1145.2,1302.2 L1149.8,1308.1 L1154.5,1313.9 L1159.1,1319.7 L1163.7,1325.5 L1168.3,1331.2 L1173.0,1336.8 L1177.6,1342.4 L1182.2,1348.0 L1186.9,1353.6 L1191.5,1359.1 L1196.1,1364.6 L1200.7,1370.1 L1205.4,1375.6 L1210.0,1381.0 L1214.6,1386.4 L1219.3,1391.7 L1223.9,1397.0 L1228.5,1402.3 L1233.1,1407.5 L1237.8,1412.7 L1242.4,1417.8 L1247.0,1422.9 L1251.7,1427.8 L1256.3,1432.8 L1260.9,1437.6 L1265.6,1442.4 L1270.2,1447.1 L1274.8,1451.8 L1279.4,1456.4 L1284.1,1460.9 L1288.7,1465.3 L1293.3,1469.7 L1298.0,1474.1 L1302.6,1478.4 L1307.2,1482.6 L1311.8,1486.8 L1316.5,1491.0 L1321.1,1495.2 L1325.7,1499.3 L1330.4,1503.4 L1335.0,1507.5 L1339.6,1511.5 L1344.2,1515.6 L1348.9,1519.7 L1353.5,1523.7 L1358.1,1527.8 L1362.8,1531.9 L1367.4,1536.0 L1372.0,1540.0 L1376.6,1544.0 L1381.3,1548.0 L1385.9,1552.0 L1390.5,1555.9 L1395.2,1559.9 L1399.8,1563.9 L1404.4,1567.8 L1409.1,1571.8 L1413.7,1575.8 L1418.3,1579.8 L1422.9,1583.8 L1427.6,1587.8 L1432.2,1591.7 L1436.8,1595.7 L1441.5,1599.7 L1446.1,1603.7 L1450.7,1607.7 L1455.3,1611.7" fill="none" stroke="#6a008a" stroke-width="11.2" stroke-linejoin="round"/>
<polygon points="251.8,1549.8 273.3,1571.8 251.8,1593.8 230.3,1571.8" fill="#6a008a"/>
<polygon points="437.0,609.4 458.5,631.4 437.0,653.4 415.5,631.4" fill="#6a008a"/>
<polygon points="622.1,522.7 643.6,544.7 622.1,566.7 600.6,544.7" fill="#6a008a"/>
<polygon points="807.3,776.0 828.8,798.0 807.3,820.0 785.8,798.0" fill="#6a008a"/>
<polygon points="992.4,1069.1 1013.9,1091.1 992.4,1113.1 970.9,1091.1" fill="#6a008a"/>
<polygon points="1177.6,1320.4 1199.1,1342.4 1177.6,1364.4 1156.1,1342.4" fill="#6a008a"/>
<polygon points="1362.8,1509.9 1384.3,1531.9 1362.8,1553.9 1341.3,1531.9" fill="#6a008a"/>
<path d="M251.8,1571.8 L256.4,1551.4 L261.1,1531.1 L265.7,1510.9 L270.3,1490.8 L274.9,1470.8 L279.6,1450.9 L284.2,1431.1 L288.8,1411.4 L293.5,1391.8 L298.1,1372.4 L302.7,1352.8 L307.3,1332.9 L312.0,1313.0 L316.6,1293.1 L321.2,1273.4 L325.9,1254.1 L330.5,1235.2 L335.1,1217.0 L339.8,1199.5 L344.4,1182.9 L349.0,1166.9 L353.6,1151.1 L358.3,1135.6 L362.9,1120.4 L367.5,1105.8 L372.2,1091.7 L376.8,1078.4 L381.4,1065.8 L386.0,1054.0 L390.7,1043.3 L395.3,1032.9 L399.9,1022.5 L404.6,1012.2 L409.2,1002.3 L413.8,993.0 L418.4,984.4 L423.1,976.9 L427.7,970.6 L432.3,965.7 L437.0,962.5 L441.6,960.3 L446.2,958.2 L450.8,956.4 L455.5,954.7 L460.1,953.4 L464.7,952.4 L469.4,951.8 L474.0,951.5 L478.6,951.6 L483.2,951.6 L487.9,951.8 L492.5,951.9 L497.1,952.2 L501.8,952.4 L506.4,952.8 L511.0,953.1 L515.7,953.5 L520.3,954.5 L524.9,956.6 L529.5,959.4 L534.2,962.8 L538.8,966.6 L543.4,970.4 L548.1,974.2 L552.7,978.4 L557.3,983.0 L561.9,988.1 L566.6,993.5 L571.2,999.1 L575.8,1004.9 L580.5,1010.7 L585.1,1016.4 L589.7,1022.0 L594.3,1027.8 L599.0,1033.6 L603.6,1039.6 L608.2,1045.7 L612.9,1052.0 L617.5,1058.5 L622.1,1065.2 L626.7,1072.2 L631.4,1079.4 L636.0,1086.8 L640.6,1094.4 L645.3,1102.1 L649.9,1110.1 L654.5,1118.1 L659.2,1126.3 L663.8,1134.6 L668.4,1143.0 L673.0,1151.5 L677.7,1160.0 L682.3,1168.5 L686.9,1177.1 L691.6,1185.6 L696.2,1194.2 L700.8,1202.7 L705.4,1211.1 L710.1,1219.5 L714.7,1227.8 L719.3,1236.0 L724.0,1244.2 L728.6,1252.4 L733.2,1260.6 L737.8,1268.9 L742.5,1277.1 L747.1,1285.3 L751.7,1293.6 L756.4,1301.8 L761.0,1310.1 L765.6,1318.4 L770.2,1326.7 L774.9,1335.1 L779.5,1343.4 L784.1,1351.8 L788.8,1360.2 L793.4,1368.7 L798.0,1377.2 L802.7,1385.7 L807.3,1394.3 L811.9,1402.9 L816.5,1411.5 L821.2,1420.1 L825.8,1428.7 L830.4,1437.3 L835.1,1446.0 L839.7,1454.7 L844.3,1463.4 L848.9,1472.1 L853.6,1480.9 L858.2,1489.7 L862.8,1498.6 L867.5,1507.5 L872.1,1516.5 L876.7,1525.5 L881.3,1534.6 L886.0,1543.8 L890.6,1553.1 L895.2,1562.4 L899.9,1571.8 L904.5,1581.3 L909.1,1591.0 L913.7,1600.7 L918.4,1610.6 L923.0,1620.6 L927.6,1630.6 L932.3,1640.7 L936.9,1650.9 L941.5,1661.2 L946.2,1671.5" fill="none" stroke="#6a008a" stroke-width="11.2" stroke-dasharray="44 58" stroke-dashoffset="96.2" stroke-linecap="round"/>
<polygon points="251.8,1549.8 273.3,1571.8 251.8,1593.8 230.3,1571.8" fill="#6a008a"/>
<polygon points="437.0,940.5 458.5,962.5 437.0,984.5 415.5,962.5" fill="#6a008a"/>
<polygon points="622.1,1043.2 643.6,1065.2 622.1,1087.2 600.6,1065.2" fill="#6a008a"/>
<polygon points="807.3,1372.3 828.8,1394.3 807.3,1416.3 785.8,1394.3" fill="#6a008a"/>
<path d="M251.8,1384.8 L256.4,1381.1 L261.1,1377.2 L265.7,1373.2 L270.3,1369.1 L274.9,1364.8 L279.6,1360.5 L284.2,1356.2 L288.8,1351.7 L293.5,1347.0 L298.1,1341.8 L302.7,1335.9 L307.3,1329.4 L312.0,1322.5 L316.6,1315.3 L321.2,1308.2 L325.9,1301.0 L330.5,1293.6 L335.1,1286.0 L339.8,1278.4 L344.4,1270.8 L349.0,1263.1 L353.6,1255.3 L358.3,1247.4 L362.9,1239.5 L367.5,1231.5 L372.2,1223.5 L376.8,1215.4 L381.4,1207.2 L386.0,1198.9 L390.7,1190.4 L395.3,1181.7 L399.9,1172.8 L404.6,1163.7 L409.2,1154.6 L413.8,1145.5 L418.4,1136.3 L423.1,1126.9 L427.7,1117.6 L432.3,1108.3 L437.0,1099.1 L441.6,1090.1 L446.2,1081.1 L450.8,1072.2 L455.5,1063.2 L460.1,1054.3 L464.7,1045.4 L469.4,1036.5 L474.0,1027.7 L478.6,1018.9 L483.2,1010.1 L487.9,1001.4 L492.5,992.8 L497.1,984.3 L501.8,975.8 L506.4,967.4 L511.0,959.1 L515.7,950.8 L520.3,942.7 L524.9,934.7 L529.5,926.7 L534.2,918.8 L538.8,910.9 L543.4,903.0 L548.1,895.1 L552.7,887.3 L557.3,879.4 L561.9,871.7 L566.6,863.9 L571.2,856.3 L575.8,848.8 L580.5,841.3 L585.1,834.0 L589.7,826.9 L594.3,819.9 L599.0,813.0 L603.6,806.3 L608.2,799.8 L612.9,793.5 L617.5,787.5 L622.1,781.6 L626.7,776.0 L631.4,770.3 L636.0,764.7 L640.6,759.2 L645.3,753.8 L649.9,748.5 L654.5,743.2 L659.2,738.1 L663.8,733.1 L668.4,728.1 L673.0,723.4 L677.7,718.7 L682.3,714.2 L686.9,709.8 L691.6,705.7 L696.2,701.6 L700.8,697.8 L705.4,694.1 L710.1,690.7 L714.7,687.4 L719.3,684.2 L724.0,681.1 L728.6,677.9 L733.2,674.8 L737.8,671.7 L742.5,668.6 L747.1,665.6 L751.7,662.7 L756.4,659.9 L761.0,657.2 L765.6,654.7 L770.2,652.3 L774.9,650.0 L779.5,647.9 L784.1,646.0 L788.8,644.3 L793.4,642.9 L798.0,641.6 L802.7,640.6 L807.3,639.9 L811.9,639.3 L816.5,638.8 L821.2,638.2 L825.8,637.7 L830.4,637.2 L835.1,636.7 L839.7,636.3 L844.3,635.8 L848.9,635.4 L853.6,635.1 L858.2,634.7 L862.8,634.4 L867.5,634.1 L872.1,633.9 L876.7,633.7 L881.3,633.5 L886.0,633.4 L890.6,633.3 L895.2,633.2 L899.9,633.2 L904.5,633.2 L909.1,633.4 L913.7,633.7 L918.4,634.1 L923.0,634.6 L927.6,635.1 L932.3,635.8 L936.9,636.5 L941.5,637.3 L946.2,638.2 L950.8,639.1 L955.4,640.1 L960.0,641.1 L964.7,642.1 L969.3,643.2 L973.9,644.3 L978.6,645.4 L983.2,646.5 L987.8,647.6 L992.4,648.7 L997.1,649.9 L1001.7,651.2 L1006.3,652.6 L1011.0,654.2 L1015.6,655.8 L1020.2,657.6 L1024.8,659.4 L1029.5,661.3 L1034.1,663.3 L1038.7,665.4 L1043.4,667.5 L1048.0,669.6 L1052.6,671.8 L1057.2,674.0 L1061.9,676.3 L1066.5,678.5 L1071.1,680.8 L1075.8,683.0 L1080.4,685.2 L1085.0,687.4 L1089.6,689.6 L1094.3,691.9 L1098.9,694.2 L1103.5,696.5 L1108.2,698.9 L1112.8,701.3 L1117.4,703.7 L1122.1,706.2 L1126.7,708.7 L1131.3,711.2 L1135.9,713.7 L1140.6,716.3 L1145.2,718.9 L1149.8,721.5 L1154.5,724.1 L1159.1,726.7 L1163.7,729.4 L1168.3,732.0 L1173.0,734.7 L1177.6,737.3 L1182.2,740.0 L1186.9,742.7 L1191.5,745.4 L1196.1,748.2 L1200.7,750.9 L1205.4,753.7 L1210.0,756.5 L1214.6,759.4 L1219.3,762.2 L1223.9,765.1 L1228.5,767.9 L1233.1,770.8 L1237.8,773.7 L1242.4,776.6 L1247.0,779.5 L1251.7,782.4 L1256.3,785.3 L1260.9,788.2 L1265.6,791.1 L1270.2,794.0 L1274.8,796.9 L1279.4,799.8 L1284.1,802.7 L1288.7,805.7 L1293.3,808.6 L1298.0,811.6 L1302.6,814.6 L1307.2,817.5 L1311.8,820.5 L1316.5,823.5 L1321.1,826.5 L1325.7,829.5 L1330.4,832.5 L1335.0,835.4 L1339.6,838.4 L1344.2,841.4 L1348.9,844.4 L1353.5,847.3 L1358.1,850.3 L1362.8,853.3 L1367.4,856.2 L1372.0,859.2 L1376.6,862.1 L1381.3,865.1 L1385.9,868.0 L1390.5,871.0 L1395.2,873.9 L1399.8,876.9 L1404.4,879.8 L1409.1,882.7 L1413.7,885.7 L1418.3,888.6 L1422.9,891.5 L1427.6,894.5 L1432.2,897.4 L1436.8,900.3 L1441.5,903.2 L1446.1,906.0 L1450.7,908.9 L1455.3,911.8 L1460.0,914.6 L1464.6,917.5 L1469.2,920.3 L1473.9,923.2 L1478.5,926.0 L1483.1,928.9 L1487.7,931.7 L1492.4,934.5 L1497.0,937.3 L1501.6,940.1 L1506.3,942.9 L1510.9,945.7 L1515.5,948.5 L1520.1,951.2 L1524.8,954.0 L1529.4,956.7 L1534.0,959.4 L1538.7,962.1 L1543.3,964.8 L1547.9,967.5 L1552.5,970.1 L1557.2,972.8 L1561.8,975.4 L1566.4,978.0 L1571.1,980.6 L1575.7,983.2 L1580.3,985.8 L1585.0,988.4 L1589.6,990.9 L1594.2,993.5 L1598.8,996.0 L1603.5,998.5 L1608.1,1001.1 L1612.7,1003.6 L1617.4,1006.0 L1622.0,1008.5 L1626.6,1011.0 L1631.2,1013.5 L1635.9,1015.9 L1640.5,1018.4 L1645.1,1020.8 L1649.8,1023.2 L1654.4,1025.6 L1659.0,1028.0 L1663.6,1030.4 L1668.3,1032.8 L1672.9,1035.2 L1677.5,1037.5 L1682.2,1039.9 L1686.8,1042.2 L1691.4,1044.5 L1696.0,1046.9 L1700.7,1049.2 L1705.3,1051.5 L1709.9,1053.8 L1714.6,1056.1 L1719.2,1058.3 L1723.8,1060.6 L1728.5,1062.9 L1733.1,1065.1 L1737.7,1067.3 L1742.3,1069.6 L1747.0,1071.8 L1751.6,1074.0 L1756.2,1076.2 L1760.9,1078.4 L1765.5,1080.6 L1770.1,1082.8 L1774.7,1085.0 L1779.4,1087.2 L1784.0,1089.3 L1788.6,1091.5 L1793.3,1093.6 L1797.9,1095.7 L1802.5,1097.8 L1807.1,1099.9 L1811.8,1102.0 L1816.4,1104.1 L1821.0,1106.1 L1825.7,1108.1 L1830.3,1110.1 L1834.9,1112.1 L1839.5,1114.0 L1844.2,1116.0 L1848.8,1117.9 L1853.4,1119.8 L1858.1,1121.7 L1862.7,1123.6 L1867.3,1125.5 L1872.0,1127.4 L1876.6,1129.2 L1881.2,1131.1 L1885.8,1132.9 L1890.5,1134.7 L1895.1,1136.6 L1899.7,1138.4 L1904.4,1140.2 L1909.0,1142.0 L1913.6,1143.9 L1918.2,1145.7 L1922.9,1147.5 L1927.5,1149.3 L1932.1,1151.1 L1936.8,1153.0 L1941.4,1154.8 L1946.0,1156.6 L1950.6,1158.4 L1955.3,1160.2 L1959.9,1162.0 L1964.5,1163.7 L1969.2,1165.5 L1973.8,1167.3 L1978.4,1169.0 L1983.0,1170.8 L1987.7,1172.5 L1992.3,1174.3 L1996.9,1176.0 L2001.6,1177.7 L2006.2,1179.4 L2010.8,1181.0 L2015.4,1182.7 L2020.1,1184.3 L2024.7,1186.0 L2029.3,1187.6 L2034.0,1189.2 L2038.6,1190.8 L2043.2,1192.4 L2047.9,1194.0 L2052.5,1195.6 L2057.1,1197.2 L2061.7,1198.8 L2066.4,1200.3 L2071.0,1201.9 L2075.6,1203.4 L2080.3,1204.9 L2084.9,1206.5 L2089.5,1208.0 L2094.1,1209.5 L2098.8,1211.0 L2103.4,1212.4" fill="none" stroke="#ff0000" stroke-width="12.0" stroke-linejoin="round"/>
<rect x="237.4" y="1370.4" width="28.8" height="28.8" fill="#fff" stroke="#ff0000" stroke-width="2.7"/>
<rect x="422.6" y="1084.7" width="28.8" height="28.8" fill="#fff" stroke="#ff0000" stroke-width="2.7"/>
<rect x="607.7" y="767.2" width="28.8" height="28.8" fill="#fff" stroke="#ff0000" stroke-width="2.7"/>
<rect x="792.9" y="625.5" width="28.8" height="28.8" fill="#fff" stroke="#ff0000" stroke-width="2.7"/>
<rect x="978.0" y="634.3" width="28.8" height="28.8" fill="#fff" stroke="#ff0000" stroke-width="2.7"/>
<rect x="1163.2" y="722.9" width="28.8" height="28.8" fill="#fff" stroke="#ff0000" stroke-width="2.7"/>
<rect x="1348.4" y="838.9" width="28.8" height="28.8" fill="#fff" stroke="#ff0000" stroke-width="2.7"/>
<rect x="1533.5" y="953.1" width="28.8" height="28.8" fill="#fff" stroke="#ff0000" stroke-width="2.7"/>
<rect x="1718.7" y="1050.7" width="28.8" height="28.8" fill="#fff" stroke="#ff0000" stroke-width="2.7"/>
<rect x="1903.8" y="1131.3" width="28.8" height="28.8" fill="#fff" stroke="#ff0000" stroke-width="2.7"/>
<rect x="2089.0" y="1198.0" width="28.8" height="28.8" fill="#fff" stroke="#ff0000" stroke-width="2.7"/>
</g>
<text transform="translate(186.61,1671.47) scale(0.9102,0.9132)" font-family="'Liberation Serif', 'Times New Roman', serif" font-size="100">100</text>
<text transform="translate(649.71,1671.47) scale(0.9102,0.9132)" font-family="'Liberation Serif', 'Times New Roman', serif" font-size="100">150</text>
<text transform="translate(1107.33,1671.45) scale(0.9415,0.9269)" font-family="'Liberation Serif', 'Times New Roman', serif" font-size="100">200</text>
<text transform="translate(1567.16,1671.45) scale(0.9606,0.9269)" font-family="'Liberation Serif', 'Times New Roman', serif" font-size="100">250</text>
<text transform="translate(2031.46,1671.45) scale(0.9482,0.9269)" font-family="'Liberation Serif', 'Times New Roman', serif" font-size="100">300</text>
<text transform="translate(175.07,1594.87) scale(0.9833,0.9134)" font-family="'Liberation Serif', 'Times New Roman', serif" font-size="100">0</text>
<text transform="translate(175.56,1096.66) scale(0.9075,0.9409)" font-family="'Liberation Serif', 'Times New Roman', serif" font-size="100">5</text>
<text transform="translate(130.58,598.98) scale(0.9356,0.9088)" font-family="'Liberation Serif', 'Times New Roman', serif" font-size="100">10</text>
<text transform="translate(131.26,99.97) scale(0.8713,0.9313)" font-family="'Liberation Serif', 'Times New Roman', serif" font-size="100">15</text>
<text transform="translate(2132.56,1408.96) scale(1.0357,0.9224)" font-family="'Liberation Serif', 'Times New Roman', serif" font-size="100">0</text>
<text transform="translate(2131.39,1033.91) scale(0.9772,0.9433)" font-family="'Liberation Serif', 'Times New Roman', serif" font-size="100">20</text>
<text transform="translate(2133.28,661.15) scale(0.9585,0.9269)" font-family="'Liberation Serif', 'Times New Roman', serif" font-size="100">40</text>
<text transform="translate(2133.16,285.08) scale(0.9598,0.9119)" font-family="'Liberation Serif', 'Times New Roman', serif" font-size="100">60</text>
<text transform="translate(604.12,1783.60) scale(1.0599,1.0830)" font-family="'Liberation Serif', 'Times New Roman', serif" font-size="100">Reaction Temperature (°C)</text>
<text transform="translate(93.80,1337.74) rotate(-90) scale(1.0123,1.0450)" font-family="'Liberation Serif', 'Times New Roman', serif" font-size="100">Efficiency Increment (%)</text>
<text transform="translate(2320.60,1481.43) rotate(-90) scale(1.0087,1.0200)" font-family="'Liberation Serif', 'Times New Roman', serif" font-size="100">Conversion Rate Increment (%)</text>
<text transform="translate(1178.33,198.95) scale(0.9520,0.8311)" font-family="'Noto Serif CJK SC', 'Liberation Serif', serif" font-size="100" font-style="italic">η</text>
<text transform="translate(1232.02,210.08) scale(0.5452,0.5188)" font-family="'Liberation Serif', 'Times New Roman', serif" font-size="100">s</text>
<text transform="translate(1242.37,214.75) scale(0.6915,0.8304)" font-family="'Liberation Serif', 'Times New Roman', serif" font-size="100">→</text>
<text transform="translate(1286.21,210.08) scale(0.6973,0.5188)" font-family="'Liberation Serif', 'Times New Roman', serif" font-size="100">e</text>
<text transform="translate(1178.33,319.75) scale(0.9520,0.8311)" font-family="'Noto Serif CJK SC', 'Liberation Serif', serif" font-size="100" font-style="italic">η</text>
<text transform="translate(1232.02,330.88) scale(0.5452,0.5187)" font-family="'Liberation Serif', 'Times New Roman', serif" font-size="100">s</text>
<text transform="translate(1242.37,335.55) scale(0.6915,0.8304)" font-family="'Liberation Serif', 'Times New Roman', serif" font-size="100">→</text>
<text transform="translate(1286.21,330.88) scale(0.6973,0.5187)" font-family="'Liberation Serif', 'Times New Roman', serif" font-size="100">e</text>
<text transform="translate(1331.36,195.04) scale(0.8685,0.8313)" font-family="'Liberation Serif', 'Times New Roman', serif" font-size="100">40%</text>
<text transform="translate(1333.61,317.53) scale(0.8544,0.8338)" font-family="'Liberation Serif', 'Times New Roman', serif" font-size="100">15%</text>
<text transform="translate(1029.22,413.60) scale(0.7940,0.8000)" font-family="'Liberation Serif', 'Times New Roman', serif" font-size="100">Line Type</text>
<text transform="translate(1769.16,183.01) scale(0.8436,0.6889)" font-family="'Noto Serif CJK SC', 'Liberation Serif', serif" font-size="100" font-style="italic">α</text>
<text transform="translate(1836.59,206.20) scale(0.5264,0.5300)" font-family="'Liberation Serif', 'Times New Roman', serif" font-size="100">Increment</text>
<text transform="translate(1770.11,286.23) scale(0.8260,0.7270)" font-family="'Noto Serif CJK SC', 'Liberation Serif', serif" font-size="100" font-style="italic">η</text>
<text transform="translate(1818.68,306.48) scale(0.5548,0.5188)" font-family="'Liberation Serif', 'Times New Roman', serif" font-size="100">s</text>
<text transform="translate(1824.33,312.41) scale(0.8186,1.0826)" font-family="'Liberation Serif', 'Times New Roman', serif" font-size="100">→</text>
<text transform="translate(1770.11,413.73) scale(0.8260,0.7270)" font-family="'Noto Serif CJK SC', 'Liberation Serif', serif" font-size="100" font-style="italic">η</text>
<text transform="translate(1818.68,433.98) scale(0.5548,0.5188)" font-family="'Liberation Serif', 'Times New Roman', serif" font-size="100">s</text>
<text transform="translate(1824.33,439.91) scale(0.8186,1.0826)" font-family="'Liberation Serif', 'Times New Roman', serif" font-size="100">→</text>
<text transform="translate(1889.80,307.52) scale(0.7333,0.5171)" font-family="'Liberation Serif', 'Times New Roman', serif" font-size="100">f</text>
<text transform="translate(1890.37,432.50) scale(0.5419,0.5300)" font-family="'Liberation Serif', 'Times New Roman', serif" font-size="100">f,real</text>
<text transform="translate(1770.20,540.63) scale(0.8180,0.7176)" font-family="'Noto Serif CJK SC', 'Liberation Serif', serif" font-size="100" font-style="italic">η</text>
<text transform="translate(1815.77,558.30) scale(0.5427,0.5300)" font-family="'Liberation Serif', 'Times New Roman', serif" font-size="100">HHV</text>
<text transform="translate(1768.84,647.99) scale(0.7960,0.7243)" font-family="'Noto Serif CJK SC', 'Liberation Serif', serif" font-size="100" font-style="italic">η</text>
<text transform="translate(1813.14,668.60) scale(0.5540,0.5500)" font-family="'Liberation Serif', 'Times New Roman', serif" font-size="100">HHV,real</text>
<text transform="translate(1768.84,774.33) scale(0.7960,0.7176)" font-family="'Noto Serif CJK SC', 'Liberation Serif', serif" font-size="100" font-style="italic">η</text>
<text transform="translate(1815.25,793.40) scale(0.5371,0.5940)" font-family="'Liberation Serif', 'Times New Roman', serif" font-size="100">ex</text>
<text transform="translate(1570.74,882.30) scale(0.7852,0.8050)" font-family="'Liberation Serif', 'Times New Roman', serif" font-size="100">Line Pattern</text>
<g fill="#000"><rect x="1011.4" y="118.1" width="36.0" height="8.0"/><rect x="1081.9" y="118.1" width="36.0" height="8.0"/><rect x="1152.4" y="118.1" width="39.1" height="8.0"/><rect x="1222.9" y="118.1" width="39.1" height="8.0"/><rect x="1296.0" y="118.1" width="36.5" height="8.0"/><rect x="1367.0" y="118.1" width="36.0" height="8.0"/><rect x="1437.7" y="118.1" width="38.8" height="8.0"/><rect x="1011.5" y="118.2" width="8.0" height="39.3"/><rect x="1011.5" y="192.0" width="8.0" height="36.0"/><rect x="1011.5" y="262.5" width="8.0" height="36.0"/><rect x="1011.5" y="333.0" width="8.0" height="38.5"/><rect x="1011.5" y="406.0" width="8.0" height="25.7"/><rect x="1056.7" y="423.7" width="36.0" height="8.0"/><rect x="1127.2" y="423.7" width="38.6" height="8.0"/><rect x="1197.8" y="423.7" width="38.5" height="8.0"/><rect x="1271.5" y="423.7" width="35.3" height="8.0"/><rect x="1342.0" y="423.7" width="35.8" height="8.0"/><rect x="1412.6" y="423.7" width="38.2" height="8.0"/><rect x="1502.7" y="126.5" width="8.0" height="36.5"/><rect x="1502.7" y="197.0" width="8.0" height="39.0"/><rect x="1502.7" y="270.8" width="8.0" height="35.8"/><rect x="1502.7" y="341.0" width="8.0" height="36.0"/><path d="M1487,429 L1508,414" stroke="#000" stroke-width="8" fill="none"/><rect x="1536.5" y="121.2" width="36.1" height="8.0"/><rect x="1607.1" y="121.2" width="38.2" height="8.0"/><rect x="1677.2" y="121.2" width="39.3" height="8.0"/><rect x="1750.5" y="121.2" width="36.4" height="8.0"/><rect x="1821.4" y="121.2" width="36.4" height="8.0"/><rect x="1891.8" y="121.2" width="39.3" height="8.0"/><rect x="1962.2" y="121.2" width="39.3" height="8.0"/><path d="M2037,124 L2065,134" stroke="#000" stroke-width="8" fill="none"/><rect x="1536.5" y="121.0" width="8.0" height="39.5"/><rect x="1536.5" y="194.3" width="8.0" height="36.4"/><rect x="1536.5" y="265.2" width="8.0" height="39.3"/><rect x="1536.5" y="338.5" width="8.0" height="35.8"/><rect x="1536.5" y="409.4" width="8.0" height="35.8"/><rect x="1536.5" y="481.0" width="8.0" height="37.5"/><rect x="1536.5" y="553.0" width="8.0" height="35.9"/><rect x="1536.5" y="623.4" width="8.0" height="35.9"/><rect x="1536.5" y="694.6" width="8.0" height="39.0"/><rect x="1536.5" y="768.1" width="8.0" height="35.9"/><rect x="1536.5" y="838.5" width="8.0" height="35.9"/><rect x="2058.5" y="171.7" width="8.0" height="36.7"/><rect x="2058.5" y="242.9" width="8.0" height="39.0"/><rect x="2058.5" y="313.8" width="8.0" height="38.0"/><rect x="2058.5" y="386.8" width="8.0" height="35.9"/><rect x="2058.5" y="457.2" width="8.0" height="38.5"/><rect x="2058.5" y="527.8" width="8.0" height="38.5"/><rect x="2058.5" y="601.6" width="8.0" height="35.1"/><rect x="2058.5" y="672.5" width="8.0" height="38.0"/><rect x="2058.5" y="742.9" width="8.0" height="38.5"/><rect x="2058.5" y="815.9" width="8.0" height="35.9"/><rect x="1545.2" y="903.0" width="38.5" height="8.0"/><rect x="1618.3" y="903.0" width="35.8" height="8.0"/><rect x="1688.6" y="903.0" width="38.5" height="8.0"/><rect x="1759.0" y="903.0" width="38.5" height="8.0"/><rect x="1832.0" y="903.0" width="35.9" height="8.0"/><rect x="1902.4" y="903.0" width="37.2" height="8.0"/><rect x="1974.1" y="903.0" width="38.5" height="8.0"/><path d="M2047,908 L2064,890" stroke="#000" stroke-width="8" fill="none"/></g>
<path d="M1037,180 H1163" stroke="#000" stroke-width="11" stroke-linecap="round"/>
<path d="M1037,301 H1079 M1138,301 H1163" stroke="#000" stroke-width="11" stroke-linecap="round"/>
<path d="M1572.6,158.0 H1755.8" stroke="#ff0000" stroke-width="10.6"/>
<rect x="1649.9" y="143.1" width="29.4" height="29.4" fill="#fff" stroke="#ff0000" stroke-width="2.7"/>
<path d="M1569.9,259.4 H1755.8" stroke="#000000" stroke-width="10.6"/>
<polygon points="1661.6,234.5 1683.0,272.3 1640.2,272.3" fill="#000000"/>
<path d="M1569.9,386.3 H1755.8" stroke="#ff0000" stroke-width="10.6"/>
<polygon points="1661.6,409.7 1683.0,371.9 1640.2,371.9" fill="#ff0000"/>
<path d="M1569.9,513.2 H1755.8" stroke="#808000" stroke-width="10.6"/>
<circle cx="1661.5" cy="510.5" r="18.7" fill="#808000"/>
<path d="M1565.0,620.7 H1753.2" stroke="#008080" stroke-width="10.6"/>
<rect x="1642.9" y="603.3" width="34.3" height="34.3" fill="#008080"/>
<path d="M1565.0,747.7 H1753.2" stroke="#6a008a" stroke-width="10.6"/>
<polygon points="1658.5,721.6 1678.8,744.5 1658.5,767.4 1638.2,744.5" fill="#6a008a"/>
<path d="M1817.8,1094 H1990" stroke="#000" stroke-width="5.3"/>
<polygon points="2024.2,1094 1983.2,1082.3 1988,1094 1983.2,1105.7" fill="#000"/>
</svg></body></html>
